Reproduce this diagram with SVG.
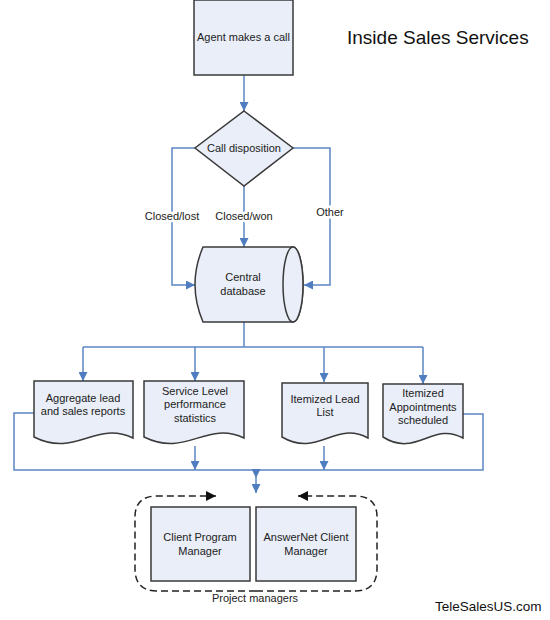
<svg xmlns="http://www.w3.org/2000/svg" width="550" height="620" viewBox="0 0 550 620">
<style>
.node{fill:#e9eef8;stroke:#3a3a3a;stroke-width:1.5}
.t{font-family:"Liberation Sans",Arial,sans-serif;font-size:11px;fill:#222;text-anchor:middle}
.c{fill:none;stroke:#5b86c5;stroke-width:1.5}
.lbl{font-family:"Liberation Sans",Arial,sans-serif;font-size:11px;fill:#222;text-anchor:middle;stroke:#fff;stroke-width:5;paint-order:stroke}
.d{fill:none;stroke:#222;stroke-width:1.5;stroke-dasharray:7,4}
</style>
<defs>
<marker id="a" markerUnits="userSpaceOnUse" markerWidth="9" markerHeight="9" viewBox="0 0 9 9" refX="9" refY="4.5" orient="auto">
<path d="M0,0 L9,4.5 L0,9 Z" fill="#4f7dc0"/>
</marker>
<marker id="k" markerUnits="userSpaceOnUse" markerWidth="10" markerHeight="10" viewBox="0 0 10 10" refX="10" refY="5" orient="auto">
<path d="M0,0 L10,5 L0,10 Z" fill="#111"/>
</marker>
</defs>
<rect width="550" height="620" fill="#fff"/>

<g id="connectors">
<path class="c" d="M244 75 V111" marker-end="url(#a)"/>
<path class="c" d="M195 148 H172 V285 H195" marker-end="url(#a)"/>
<path class="c" d="M244 186 V247" marker-end="url(#a)"/>
<path class="c" d="M293 148 H330 V285 H304" marker-end="url(#a)"/>
<path class="c" d="M244 322 V347"/>
<path class="c" d="M83 347 H423"/>
<path class="c" d="M83 347 V381" marker-end="url(#a)"/>
<path class="c" d="M195 347 V381" marker-end="url(#a)"/>
<path class="c" d="M324 347 V382" marker-end="url(#a)"/>
<path class="c" d="M423 347 V384" marker-end="url(#a)"/>
<path class="c" d="M34 413 H14 V470 H483 V414 H463"/>
<path class="c" d="M195 446 V470" marker-end="url(#a)"/>
<path class="c" d="M324 446 V470" marker-end="url(#a)"/>
<path class="c" d="M256 470 L256 478 L256 493" marker-mid="url(#a)" marker-end="url(#a)"/>
<text class="lbl" x="172" y="220">Closed/lost</text>
<text class="lbl" x="244" y="220">Closed/won</text>
<text class="lbl" x="330" y="216">Other</text>
</g>

<g id="agent">
<rect class="node" x="194" y="0" width="99" height="75"/>
<text class="t" x="243.5" y="41">Agent makes a call</text>
</g>

<g id="disposition">
<path class="node" d="M244 111 L293 148 L244 186 L195 148 Z"/>
<text class="t" x="244" y="152">Call disposition</text>
</g>

<g id="database">
<path class="node" d="M203 247 H293 A10 37.5 0 0 1 293 322 H203 Q187 284.5 203 247 Z"/>
<ellipse class="node" cx="293" cy="284.5" rx="10" ry="37.5"/>
<text class="t" x="243" y="281">Central</text>
<text class="t" x="243" y="295">database</text>
</g>

<g id="doc-aggregate">
<path class="node" d="M34 381 H133 V438 C95 420 76 458 34 437 Z"/>
<text class="t" x="83" y="402">Aggregate lead</text>
<text class="t" x="83" y="415">and sales reports</text>
</g>

<g id="doc-service">
<path class="node" d="M144 381 H244 V438 C206 420 187 458 144 437 Z"/>
<text class="t" x="195" y="395">Service Level</text>
<text class="t" x="195" y="408">performance</text>
<text class="t" x="195" y="422">statistics</text>
</g>

<g id="doc-lead">
<path class="node" d="M282 383 H368 V438 C335 420 318 458 282 437 Z"/>
<text class="t" x="325" y="403">Itemized Lead</text>
<text class="t" x="325" y="416">List</text>
</g>

<g id="doc-appointments">
<path class="node" d="M383 384 H463 V438 C433 421 416 458 383 437 Z"/>
<text class="t" x="423" y="397">Itemized</text>
<text class="t" x="423" y="411">Appointments</text>
<text class="t" x="423" y="424">scheduled</text>
</g>

<g id="project-managers">
<path class="d" d="M256 591 H157 Q135 591 135 569 V517 Q135 496 157 496 H216" marker-end="url(#k)"/>
<path class="d" d="M256 591 H355 Q377 591 377 569 V517 Q377 496 355 496 H298" marker-end="url(#k)"/>
<text class="t" x="255" y="602">Project managers</text>
</g>

<g id="client-program-manager">
<rect class="node" x="151" y="507" width="99" height="74"/>
<text class="t" x="200" y="541">Client Program</text>
<text class="t" x="200" y="555">Manager</text>
</g>

<g id="answernet-client-manager">
<rect class="node" x="256" y="507" width="100" height="74"/>
<text class="t" x="306" y="541">AnswerNet Client</text>
<text class="t" x="306" y="555">Manager</text>
</g>

<text x="347" y="44" font-family="Liberation Sans,Arial,sans-serif" font-size="19" fill="#111">Inside Sales Services</text>
<text x="435" y="611" font-family="Liberation Sans,Arial,sans-serif" font-size="13.5" fill="#111">TeleSalesUS.com</text>
</svg>
